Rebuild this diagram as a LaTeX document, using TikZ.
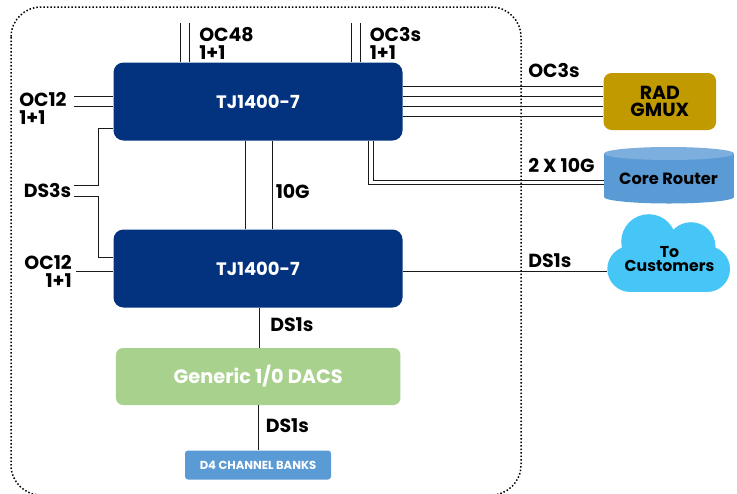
\documentclass[tikz,border=0pt]{standalone}
\usepackage{fontspec}
\setmainfont{Poppins}
\definecolor{navy}{HTML}{03337F}
\definecolor{gold}{HTML}{C19A00}
\definecolor{skyb}{HTML}{5B9BD5}
\definecolor{skyt}{HTML}{7CAFDE}
\definecolor{leaf}{HTML}{A9D18E}
\definecolor{cloudc}{HTML}{45C6F7}
\definecolor{wire}{HTML}{1A1A1A}
\def\px{0.75pt}
\tikzset{
  x=0.75pt,y=-0.75pt,
  box/.style={rounded corners=10*\px,inner sep=0pt,align=center,font=\bfseries\fontsize{13.5}{13.5}\selectfont},
  navybox/.style={box,fill=navy,text=white,minimum width=289*\px,minimum height=78*\px},
  lbl/.style={inner sep=0pt,font=\bfseries\fontsize{14.2}{13.5}\selectfont,text=black},
  wireline/.style={draw=wire,line width=1*\px},
}
\begin{document}
\begin{tikzpicture}
\useasboundingbox (0,0) rectangle (737,493);
\fill[white] (0,0) rectangle (737,493);
% dotted frame
\draw[black,line width=1.5*\px,dash pattern=on 1.5*\px off 2*\px,rounded corners=30*\px]
  (11,7) rectangle (521,495);
% boxes
\node[navybox] (top) at (258,101.5) {TJ1400-7};
\node[navybox] (low) at (258,268.5) {TJ1400-7};
\node[box,fill=leaf,text=white,rounded corners=7*\px,minimum width=284.5*\px,minimum height=57*\px,font=\bfseries\fontsize{14.5}{14.5}\selectfont] (dacs) at (258.2,376.5) {Generic 1/0 DACS};
\node[box,fill=skyb,text=white,rounded corners=3*\px,minimum width=146*\px,minimum height=29*\px,font=\bfseries\fontsize{8.7}{8.7}\selectfont] (d4) at (258,465) {D4 CHANNEL BANKS};
\node[box,fill=gold,text=black,rounded corners=8*\px,minimum width=112.5*\px,minimum height=57*\px,font=\bfseries\fontsize{14.2}{13.3}\selectfont] (gmux) at (659.8,101.5) {RAD\\GMUX};
% core router cylinder
\fill[skyb] (669,197) ellipse[x radius=65,y radius=6.5];
\node[fill=skyb,minimum width=130*\px,minimum height=43.5*\px,inner sep=0pt] (core) at (669,175.2) {};
\fill[skyt] (669,153.5) ellipse[x radius=65,y radius=6.5];
\node[inner sep=0pt,font=\bfseries\fontsize{12.2}{12}\selectfont,text=black] (corelabel) at (668.5,178.5) {Core Router};
% cloud
\fill[cloudc] (630.3,269) circle[radius=23];
\fill[cloudc] (648.7,241.7) circle[radius=27.5];
\fill[cloudc] (691,246.7) circle[radius=24.5];
\fill[cloudc] (707,269) circle[radius=23];
\fill[cloudc] (630,246) rectangle (707,292);
\node[inner sep=0pt,align=center,font=\bfseries\fontsize{11.8}{11}\selectfont,text=black] (cloud) at (669.5,259) {To\\Customers};
\coordinate (cloudw) at (607,271.7);
% free ends
\coordinate (t1) at (180,23); \coordinate (t2) at (189,23);
\coordinate (t3) at (351,23); \coordinate (t4) at (360,23);
\coordinate (l1) at (74,96.5); \coordinate (l2) at (74,106);
\coordinate (ds1) at (74,185); \coordinate (ds1k) at (98,185);
\coordinate (ds2) at (74,196); \coordinate (ds2k) at (98,196);
\coordinate (l3) at (76,271.7);
\coordinate (v1) at (245.5,185); \coordinate (v2) at (272,185);
\coordinate (g1) at (500,86); \coordinate (g2) at (500,96); \coordinate (g3) at (500,106); \coordinate (g4) at (500,116);
\coordinate (r1) at (373.7,180); \coordinate (r2) at (368,184.5);
\coordinate (dv1) at (259.5,328); \coordinate (dv2) at (258,428);
% connectors
\foreach \c in {t1,t2,t3,t4} \draw[wireline] (\c) -- (\c |- top.north);
\foreach \c in {l1,l2} \draw[wireline] (\c) -- (\c -| top.west);
\draw[wireline] (ds1) -- (ds1k) -- (98,128.5) -- (top.west |- 0,128.5);
\draw[wireline] (ds2) -- (ds2k) -- (98,257) -- (low.west |- 0,257);
\draw[wireline] (l3) -- (l3 -| low.west);
\draw[wireline] (v1 |- top.south) -- (v1 |- low.north);
\draw[wireline] (v2 |- top.south) -- (v2 |- low.north);
\foreach \c in {g1,g2,g3,g4} \draw[wireline] (\c -| top.east) -- (\c -| gmux.west);
\draw[wireline] (r1 |- top.south) -- (r1) -- (r1 -| core.west);
\draw[wireline] (r2 |- top.south) -- (r2) -- (r2 -| core.west);
\draw[wireline] (cloudw -| low.east) -- (cloudw);
\draw[wireline] (dv1 |- low.south) -- (dv1 |- dacs.north);
\draw[wireline] (dv2 |- dacs.south) -- (dv2 |- d4.north);
% labels
\node[lbl,anchor=west,align=left] (a1) at (199,43.5) {OC48\\1+1};
\node[lbl,anchor=west,align=left] (a2) at (369.5,43.5) {OC3s\\1+1};
\node[lbl,anchor=west,align=left] (a3) at (19,108) {OC12\\1+1};
\node[lbl,anchor=east] (a4) at (71.5,190) {DS3s};
\node[lbl,anchor=east,align=right] (a5) at (72,271.5) {OC12\\1+1};
\node[lbl,anchor=west] (a6) at (275.5,191) {10G};
\node[lbl,anchor=west] (a7) at (528,71) {OC3s};
\node[lbl,anchor=west] (a8) at (528,165) {2 X 10G};
\node[lbl,anchor=west] (a9) at (528,260.5) {DS1s};
\node[lbl,anchor=west] (a10) at (270,324.5) {DS1s};
\node[lbl,anchor=west] (a11) at (265.5,425.5) {DS1s};
\end{tikzpicture}
\end{document}
